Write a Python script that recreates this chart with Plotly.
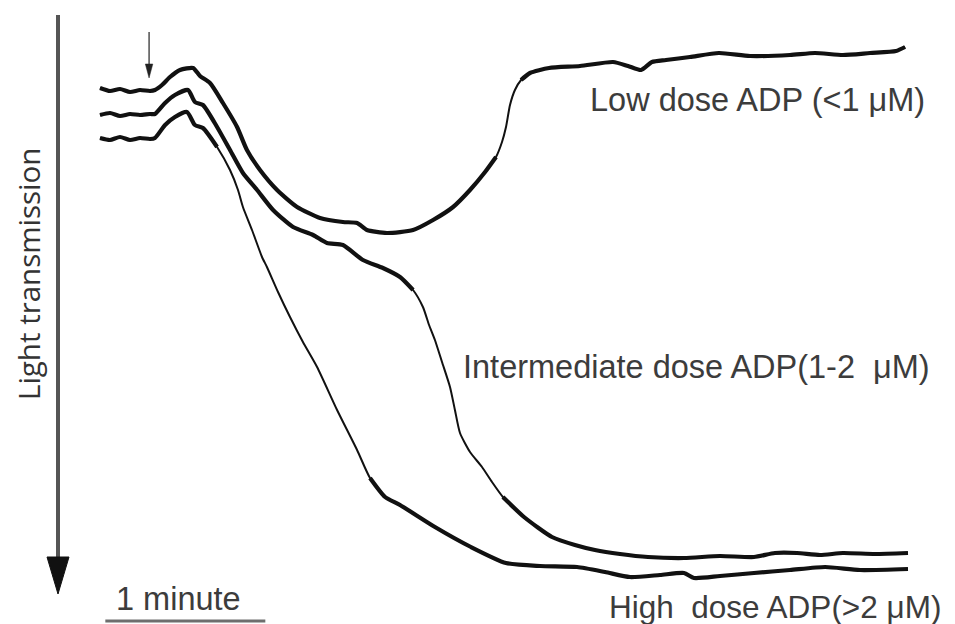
import plotly.graph_objects as go

# page body adds an 8 px margin; the figure is sized and mapped to compensate
OFF = 8
W, H = 955 - OFF, 624 - OFF

# ---- data: time (s) after recording start, light transmission (% aggregation) ----
time_low = [0, 3.75, 7.5, 11.25, 15, 18.75, 20.6, 23.25, 26.25, 30,
            34.9, 37.5, 41.25, 46.1, 51.4, 55.1, 60, 66.4, 73.9, 82.5,
            91.1, 96.4, 100.1, 107.6, 117.4, 124.9, 132.4, 138.75, 144.4, 148.5,
            150.75, 152.25, 153.75, 155.6, 157.9, 161.25, 168.4, 180, 192.4, 198,
            202.9, 207, 212.25, 221.25, 232.1, 243.75, 258.75, 268.1, 278.6, 288.75,
            298.5, 301.9]
trans_low = [-0.4, 0.2, -0.2, 0.4, 0, 0.2, 0, -1, -2.6, -4,
             -4.4, -2.8, -1.4, 2.6, 7.4, 12, 16, 20, 23.4, 25.6,
             26.4, 26.6, 28, 28.6, 28, 26, 23.4, 20, 16.4, 13.4,
             10.4, 7.4, 3, 0, -2, -3.4, -4.4, -4.8, -5.6, -4.8,
             -4, -5.6, -6, -6.6, -7.4, -6.8, -7, -7.4, -7, -7.4,
             -7.8, -8.6]

time_int = [0, 3.75, 7.5, 11.25, 15, 18.75, 20.6, 24.4, 28.1, 33,
            35.6, 38.6, 43.9, 48.75, 53.6, 58.9, 64.9, 72.4, 79.9, 85.1,
            91.1, 98.6, 106.1, 112.5, 117.4, 121.1, 123.4, 125.6, 128.25, 131.25,
            133.1, 135, 138.75, 143.25, 147, 151.1, 159, 169.5, 178.1, 185.6,
            195, 205.5, 219, 232.5, 245.25, 253.1, 261.4, 270, 278.6, 290.6,
            303]
trans_int = [5, 4.6, 5.2, 4.8, 5, 4.8, 4.8, 2.6, 1, 0,
             2.4, 3, 7.4, 12, 16.6, 20, 24, 27.4, 29, 30.6,
             31, 34, 35.6, 37.4, 40, 43.4, 47, 50, 54.4, 59.4,
             64, 68.6, 72.4, 75.4, 78.4, 81.4, 85.4, 89.4, 91, 92,
             92.8, 93.4, 93.6, 93.2, 93.4, 92.6, 92.6, 93, 92.6, 92.8,
             92.6]

time_high = [0, 3.75, 7.5, 11.25, 15, 18.75, 20.6, 24.4, 28.1, 32.6,
             35.6, 38.6, 43.9, 48.75, 51.75, 53.6, 57, 60.75, 62.6, 66.75,
             71.25, 76.1, 81.4, 88.9, 96.4, 101.25, 106.9, 112.5, 125.6, 139.1,
             152.25, 165, 178.9, 189.4, 198.75, 210, 219, 222.75, 232.5, 245.25,
             258.75, 271.9, 285, 303]
trans_high = [9.6, 10, 9.4, 10, 9.6, 9.8, 9.6, 7, 5.4, 4.4,
              7, 7.6, 11.4, 16, 20, 23.4, 28, 33.4, 35.4, 40.4,
              45.4, 50.4, 55.4, 64, 72, 77.6, 81.4, 83, 87.4, 91.4,
              94.6, 95.2, 95.4, 96.4, 97.4, 97, 96.6, 97.6, 97.2, 96.6,
              96, 95.4, 96, 95.8]

labels = ["Low dose ADP (&lt;1 \u03bcM)",
          "Intermediate dose ADP(1-2 \u00a0\u03bcM)",
          "High \u00a0dose ADP(&gt;2 \u03bcM)"]
y_label = "Light transmission"
scale_label = "1 minute"

ADP_ADDED_S = 18.4      # arrow: agonist addition
SCALE_BAR_S = 60        # 1 minute

# ---- view (reference pixel -> data: t=(px-100)*0.375, T=(py-90)/5) ----
X_RANGE = [(OFF - 100) * 0.375, (955 - 100) * 0.375]
Y_RANGE = [(624 - 90) / 5, (OFF - 90) / 5]   # transmission increases downward


def pxx(p):
    return (p - OFF) / W


def pxy(p):
    return 1 - (p - OFF) / H


fig = go.Figure()


def add_series(t, v, thin_span):
    a, b = thin_span
    fig.add_trace(go.Scatter(x=t, y=v, mode="lines",
                             line=dict(color="#111111", width=2.0, shape="spline", smoothing=0.6),
                             hoverinfo="skip"))
    v_thick = [val if (tt <= a or tt >= b) else None for tt, val in zip(t, v)]
    fig.add_trace(go.Scatter(x=t, y=v_thick, mode="lines",
                             line=dict(color="#111111", width=4.2, shape="spline", smoothing=0.6),
                             connectgaps=False, hoverinfo="skip"))


add_series(time_low, trans_low, (149, 157))
add_series(time_int, trans_int, (118, 150))
add_series(time_high, trans_high, (45, 100))

shapes = []
# big axis arrow
shapes.append(dict(type="line", xref="paper", yref="paper",
                   x0=pxx(58), x1=pxx(58), y0=pxy(15), y1=pxy(562),
                   line=dict(color="#555555", width=4)))
shapes.append(dict(type="path", xref="paper", yref="paper",
                   path=f"M {pxx(47)},{pxy(557)} L {pxx(69)},{pxy(557)} L {pxx(58)},{pxy(594)} Z",
                   fillcolor="#111111", line=dict(color="#111111", width=1)))
# small ADP arrow (data coords)
shapes.append(dict(type="line", xref="x", yref="y",
                   x0=ADP_ADDED_S, x1=ADP_ADDED_S, y0=-11.6, y1=-4.0,
                   line=dict(color="#222222", width=1.2)))
shapes.append(dict(type="path", xref="x", yref="y",
                   path=f"M {ADP_ADDED_S-1.4},-5.2 L {ADP_ADDED_S+1.4},-5.2 L {ADP_ADDED_S},-2.4 Z",
                   fillcolor="#222222", line=dict(color="#222222", width=0.5)))
# 1 minute scale bar
shapes.append(dict(type="line", xref="x", yref="y",
                   x0=2, x1=2 + SCALE_BAR_S, y0=106.2, y1=106.2,
                   line=dict(color="#6e6e6e", width=3)))

font_txt = dict(family="Liberation Sans, Arial, sans-serif", size=32.5, color="#3c3c3c")
annotations = [
    dict(text=labels[0], x=pxx(588), y=pxy(100), xanchor="left", yanchor="middle", font=font_txt),
    dict(text=labels[1], x=pxx(461), y=pxy(367), xanchor="left", yanchor="middle", font=font_txt),
    dict(text=labels[2], x=pxx(607), y=pxy(607), xanchor="left", yanchor="middle",
         font=dict(font_txt, size=31.5)),
    dict(text=scale_label, x=pxx(178), y=pxy(599), xanchor="center", yanchor="middle", font=font_txt),
]
for a in annotations:
    a.update(xref="paper", yref="paper", showarrow=False)
annotations.append(dict(text=y_label, x=pxx(28), y=pxy(274), xref="paper", yref="paper",
                        showarrow=False, textangle=-90, xanchor="center", yanchor="middle",
                        font=dict(family="Open Sans, sans-serif", size=29.5, color="#333333")))

fig.update_layout(
    width=W, height=H,
    margin=dict(l=0, r=0, t=0, b=0),
    paper_bgcolor="white", plot_bgcolor="white",
    showlegend=False,
    xaxis=dict(visible=False, range=X_RANGE, fixedrange=True),
    yaxis=dict(visible=False, range=Y_RANGE, fixedrange=True),
    shapes=shapes, annotations=annotations,
)

fig.write_html("out.html")
